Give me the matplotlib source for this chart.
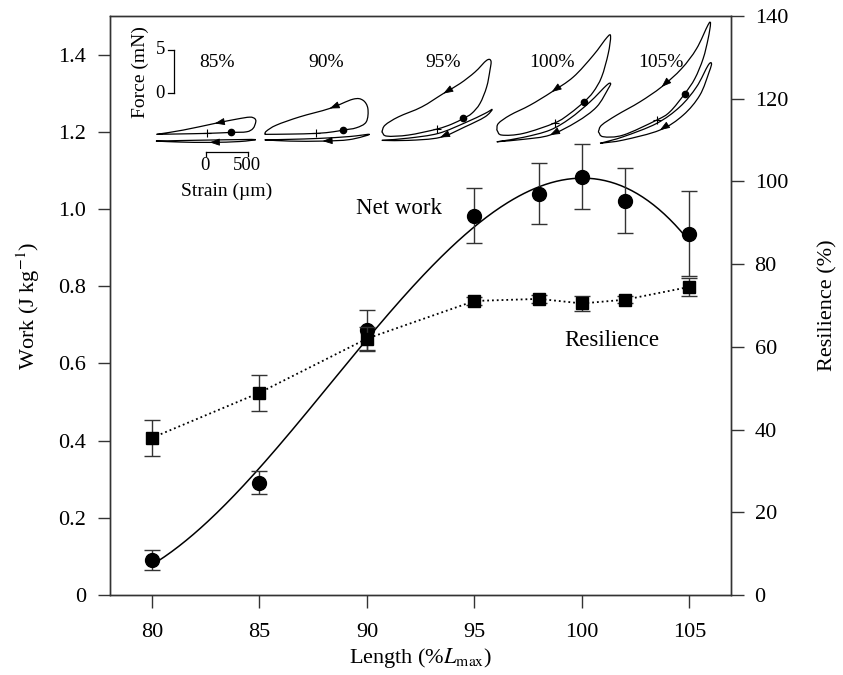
import numpy as np
import matplotlib
matplotlib.use("Agg")
import matplotlib.pyplot as plt
from matplotlib.path import Path
from matplotlib.patches import PathPatch

plt.rcParams["font.family"] = ["Liberation Serif", "DejaVu Serif"]
plt.rcParams["mathtext.fontset"] = "stix"

# main data
lengths = [80, 85, 90, 95, 98, 100, 102, 105]
net_work = [0.091, 0.291, 0.686, 0.983, 1.040, 1.084, 1.022, 0.936]
net_work_err = [0.025, 0.029, 0.052, 0.072, 0.080, 0.085, 0.085, 0.110]
resilience = [38.0, 48.9, 62.0, 71.1, 71.6, 70.5, 71.4, 74.5]
resilience_err = [4.4, 4.3, 2.9, 0.9, 0.9, 1.9, 0.9, 2.2]

length_ticks = [80, 85, 90, 95, 100, 105]
work_ticks = [0, 0.2, 0.4, 0.6, 0.8, 1.0, 1.2, 1.4]
work_tick_labels = ["0", "0.2", "0.4", "0.6", "0.8", "1.0", "1.2", "1.4"]
res_ticks = [0, 20, 40, 60, 80, 100, 120, 140]

# work loops (strain in um, force in mN, relative to the rest-length mark)
loop_labels = ["85%", "90%", "95%", "100%", "105%"]

outer85_strain = [-590, -315, 0, 287, 472, 550, 582, 570, 511, 354, 98, -276, -590]
outer85_force = [-0.11, -0.06, 0, 0.11, 0.18, 0.57, 1.32, 1.69, 1.86, 1.63, 1.14, 0.38, -0.11]
inner85_strain = [-598, -315, 39, 393, 582, 393, 39, -315, -598]
inner85_force = [-0.88, -0.82, -0.76, -0.71, -0.71, -0.93, -1.03, -0.99, -0.88]

outer90_strain = [-610, -315, 0, 196, 314, 472, 590, 609, 550, 432, 157, -197, -472, -590, -610]
outer90_force = [-0.11, -0.08, 0, 0.18, 0.38, 0.64, 1.32, 2.85, 3.80, 3.91, 2.85, 1.89, 0.95, 0.26, -0.11]
inner90_strain = [-610, -315, 39, 392, 629, 392, 74, -315, -610]
inner90_force = [-0.74, -0.68, -0.57, -0.36, -0.11, -0.71, -0.88, -0.88, -0.74]

outer95_strain = [-649, -590, -335, 0, 177, 314, 413, 511, 590, 629, 641, 590, 452, 275, 78, -177, -453, -610, -649]
outer95_force = [-0.31, -0.80, -0.68, 0, 0.57, 1.22, 1.79, 2.93, 4.82, 6.73, 7.79, 7.87, 6.53, 5.21, 4.07, 2.54, 1.40, 0.46, -0.31]
inner95_strain = [-649, -335, 19, 334, 570, 656, 570, 334, 39, -339, -649]
inner95_force = [-1.29, -1.03, -0.49, 0.72, 1.79, 2.25, 1.40, 0.26, -0.95, -1.29, -1.29]

outer100_strain = [-688, -629, -374, 0, 177, 342, 452, 551, 629, 657, 617, 452, 216, -39, -295, -531, -669, -688]
outer100_force = [-0.83, -1.40, -1.21, 0, 1.07, 2.39, 3.53, 5.24, 7.91, 9.88, 9.80, 7.72, 5.24, 3.53, 2.02, 0.88, -0.07, -0.83]
inner100_strain = [-688, -374, -59, 177, 413, 610, 657, 630, 492, 256, -59, -374, -688]
inner100_force = [-2.17, -1.66, -0.83, 0.50, 2.39, 4.30, 4.49, 3.92, 1.82, 0.11, -1.40, -1.89, -2.17]

outer105_strain = [-689, -630, -394, 0, 157, 334, 452, 550, 609, 637, 609, 472, 295, 59, -197, -472, -649, -689]
outer105_force = [-1.33, -1.90, -1.71, 0, 0.95, 3.04, 4.75, 7.03, 9.31, 11.02, 10.91, 8.17, 5.89, 3.80, 2.09, 0.57, -0.57, -1.33]
inner105_strain = [-669, -394, 0, 275, 472, 609, 649, 621, 511, 314, 39, -394, -669]
inner105_force = [-2.66, -1.90, -0.38, 1.52, 3.80, 6.27, 6.46, 5.51, 2.85, 0.57, -1.14, -2.28, -2.66]

outer_loops = [(outer85_strain, outer85_force), (outer90_strain, outer90_force),
               (outer95_strain, outer95_force), (outer100_strain, outer100_force),
               (outer105_strain, outer105_force)]
inner_loops = [(inner85_strain, inner85_force), (inner90_strain, inner90_force),
               (inner95_strain, inner95_force), (inner100_strain, inner100_force),
               (inner105_strain, inner105_force)]
outer_dot_idx = [3, 4, 5, 5, 5]
outer_arrow_idx = [10, 10, 14, 13, 13]
inner_arrow_idx = [6, 6, 8, 10, 10]

force_bar = 5     # mN
strain_bar = 500  # um

fig = plt.figure(figsize=(8.43, 6.75), dpi=100)
ax = fig.add_axes([110 / 843, 80 / 675, 621 / 843, 579 / 675])
ax2 = ax.twinx()

spine_col = "#333333"

# net work with fitted curve
fit = np.polyfit(lengths, net_work, 3)
xs = np.linspace(min(lengths), max(lengths), 300)
ax.plot(xs, np.polyval(fit, xs), color="black", lw=1.1, zorder=2)
ax.errorbar(lengths, net_work, yerr=net_work_err, fmt="o", color="black",
            ms=10, ecolor="#333333", elinewidth=1, capsize=6, capthick=1, zorder=3)

# resilience
ax2.errorbar(lengths, resilience, yerr=resilience_err, fmt="s", ls=":", color="black",
             lw=1.3, ms=8.5, ecolor="#333333", elinewidth=1, capsize=6, capthick=1)

ax.set_xlim(78.05, 106.93)
ax.set_ylim(0, 1.5)
ax2.set_ylim(0, 140)

ax.set_xticks(length_ticks)
ax.set_yticks(work_ticks)
ax.set_yticklabels(work_tick_labels)
ax2.set_yticks(res_ticks)

for a in (ax, ax2):
    a.tick_params(direction="out", length=9, width=1, pad=8, labelsize=16, colors="black")
    for sp in a.spines.values():
        sp.set_color(spine_col)
        sp.set_linewidth(1)
    a.tick_params(color=spine_col)
ax.tick_params(axis="x", pad=11)

ax.set_xlabel(r"Length (%$\mathit{L}_{\mathrm{max}}$)", fontsize=16, labelpad=3)
ax.set_ylabel(r"Work (J kg$^{\mathrm{-1}}$)", fontsize=16, labelpad=12)
ax2.set_ylabel("Resilience (%)", fontsize=16, labelpad=22)

ax.text(91.5, 1.0, "Net work", fontsize=16.5, ha="center", va="center")
ax.text(101.4, 0.66, "Resilience", fontsize=16.5, ha="center", va="center")

# inset with work loops, scaled from the scale bars
um_per_px = 500 / 42.3
mn_per_px = 5 / 43.7
ins = fig.add_axes([110 / 843, 475 / 675, 621 / 843, 184 / 675])
ins.set_xlim(0, 621 * um_per_px)
ins.set_ylim(0, 184 * mn_per_px)
ins.axis("off")
ins.patch.set_alpha(0)

origin_x = [1141, 2439, 3862, 5260, 6461]
origin_y = [7.62, 7.62, 8.11, 8.83, 9.14]


def smooth_path(xv, yv):
    # Catmull-Rom through the read points, handed to matplotlib as cubic Beziers
    p = np.column_stack([xv, yv]).astype(float)
    n = len(p)
    verts = [p[0]]
    codes = [Path.MOVETO]
    for i in range(n - 1):
        m0 = (p[i + 1] - p[i - 1]) / 2 if i > 0 else p[1] - p[0]
        m1 = (p[i + 2] - p[i]) / 2 if i + 2 < n else p[n - 1] - p[n - 2]
        verts += [p[i] + m0 / 3, p[i + 1] - m1 / 3, p[i + 1]]
        codes += [Path.CURVE4] * 3
    return Path(verts, codes)


def draw_loop(xv, yv):
    ins.add_patch(PathPatch(smooth_path(xv, yv), fill=False, edgecolor="black", lw=0.9))


def draw_arrow(xv, yv, i):
    tip = np.array([xv[i], yv[i]])
    back = tip - 0.2 * (tip - np.array([xv[i - 1], yv[i - 1]]))
    ins.annotate("", xy=tip, xytext=back,
                 arrowprops=dict(arrowstyle="-|>,head_length=0.6,head_width=0.22",
                                 color="black", lw=0.6, shrinkA=0, shrinkB=0))


for k in range(5):
    ox, oy = origin_x[k], origin_y[k]
    sx = np.array(outer_loops[k][0]) + ox
    fy = np.array(outer_loops[k][1]) + oy
    draw_loop(sx, fy)
    ins.plot(sx[outer_dot_idx[k]], fy[outer_dot_idx[k]], "o", color="black", ms=4.5)
    draw_arrow(sx, fy, outer_arrow_idx[k])
    sx2 = np.array(inner_loops[k][0]) + ox
    fy2 = np.array(inner_loops[k][1]) + oy
    draw_loop(sx2, fy2)
    draw_arrow(sx2, fy2, inner_arrow_idx[k])
    ins.plot(ox, oy, "+", color="black", ms=6, mew=0.8)

label_x = [1259, 2557, 3933, 5224, 6510]
for k in range(5):
    ins.text(label_x[k], 15.77, loop_labels[k], fontsize=14, ha="center", va="center")

# force scale bar
fb_x, fb_y = 755, 12.2
ins.plot([fb_x, fb_x], [fb_y, fb_y + force_bar], color="black", lw=0.9)
for yv in (fb_y, fb_y + force_bar):
    ins.plot([fb_x - 71, fb_x], [yv, yv], color="black", lw=0.9)
ins.text(fb_x - 105, fb_y + force_bar, str(force_bar), fontsize=13.5, ha="right", va="center")
ins.text(fb_x - 105, fb_y, "0", fontsize=13.5, ha="right", va="center")
ins.text(354, 14.6, "Force (mN)", fontsize=14, rotation=90, ha="center", va="center")

# strain scale bar
sb_x, sb_y = 1133, 5.51
ins.plot([sb_x, sb_x + strain_bar], [sb_y, sb_y], color="black", lw=0.9)
for xv in (sb_x, sb_x + strain_bar):
    ins.plot([xv, xv], [sb_y, sb_y - 0.5], color="black", lw=0.9)
ins.text(sb_x - 10, 3.95, "0", fontsize=13.5, ha="center", va="center")
ins.text(sb_x + strain_bar - 15, 3.95, str(strain_bar), fontsize=13.5, ha="center", va="center")
ins.text(1377, 0.95, "Strain (µm)", fontsize=14, ha="center", va="center")

fig.savefig("out.png", dpi=100)
